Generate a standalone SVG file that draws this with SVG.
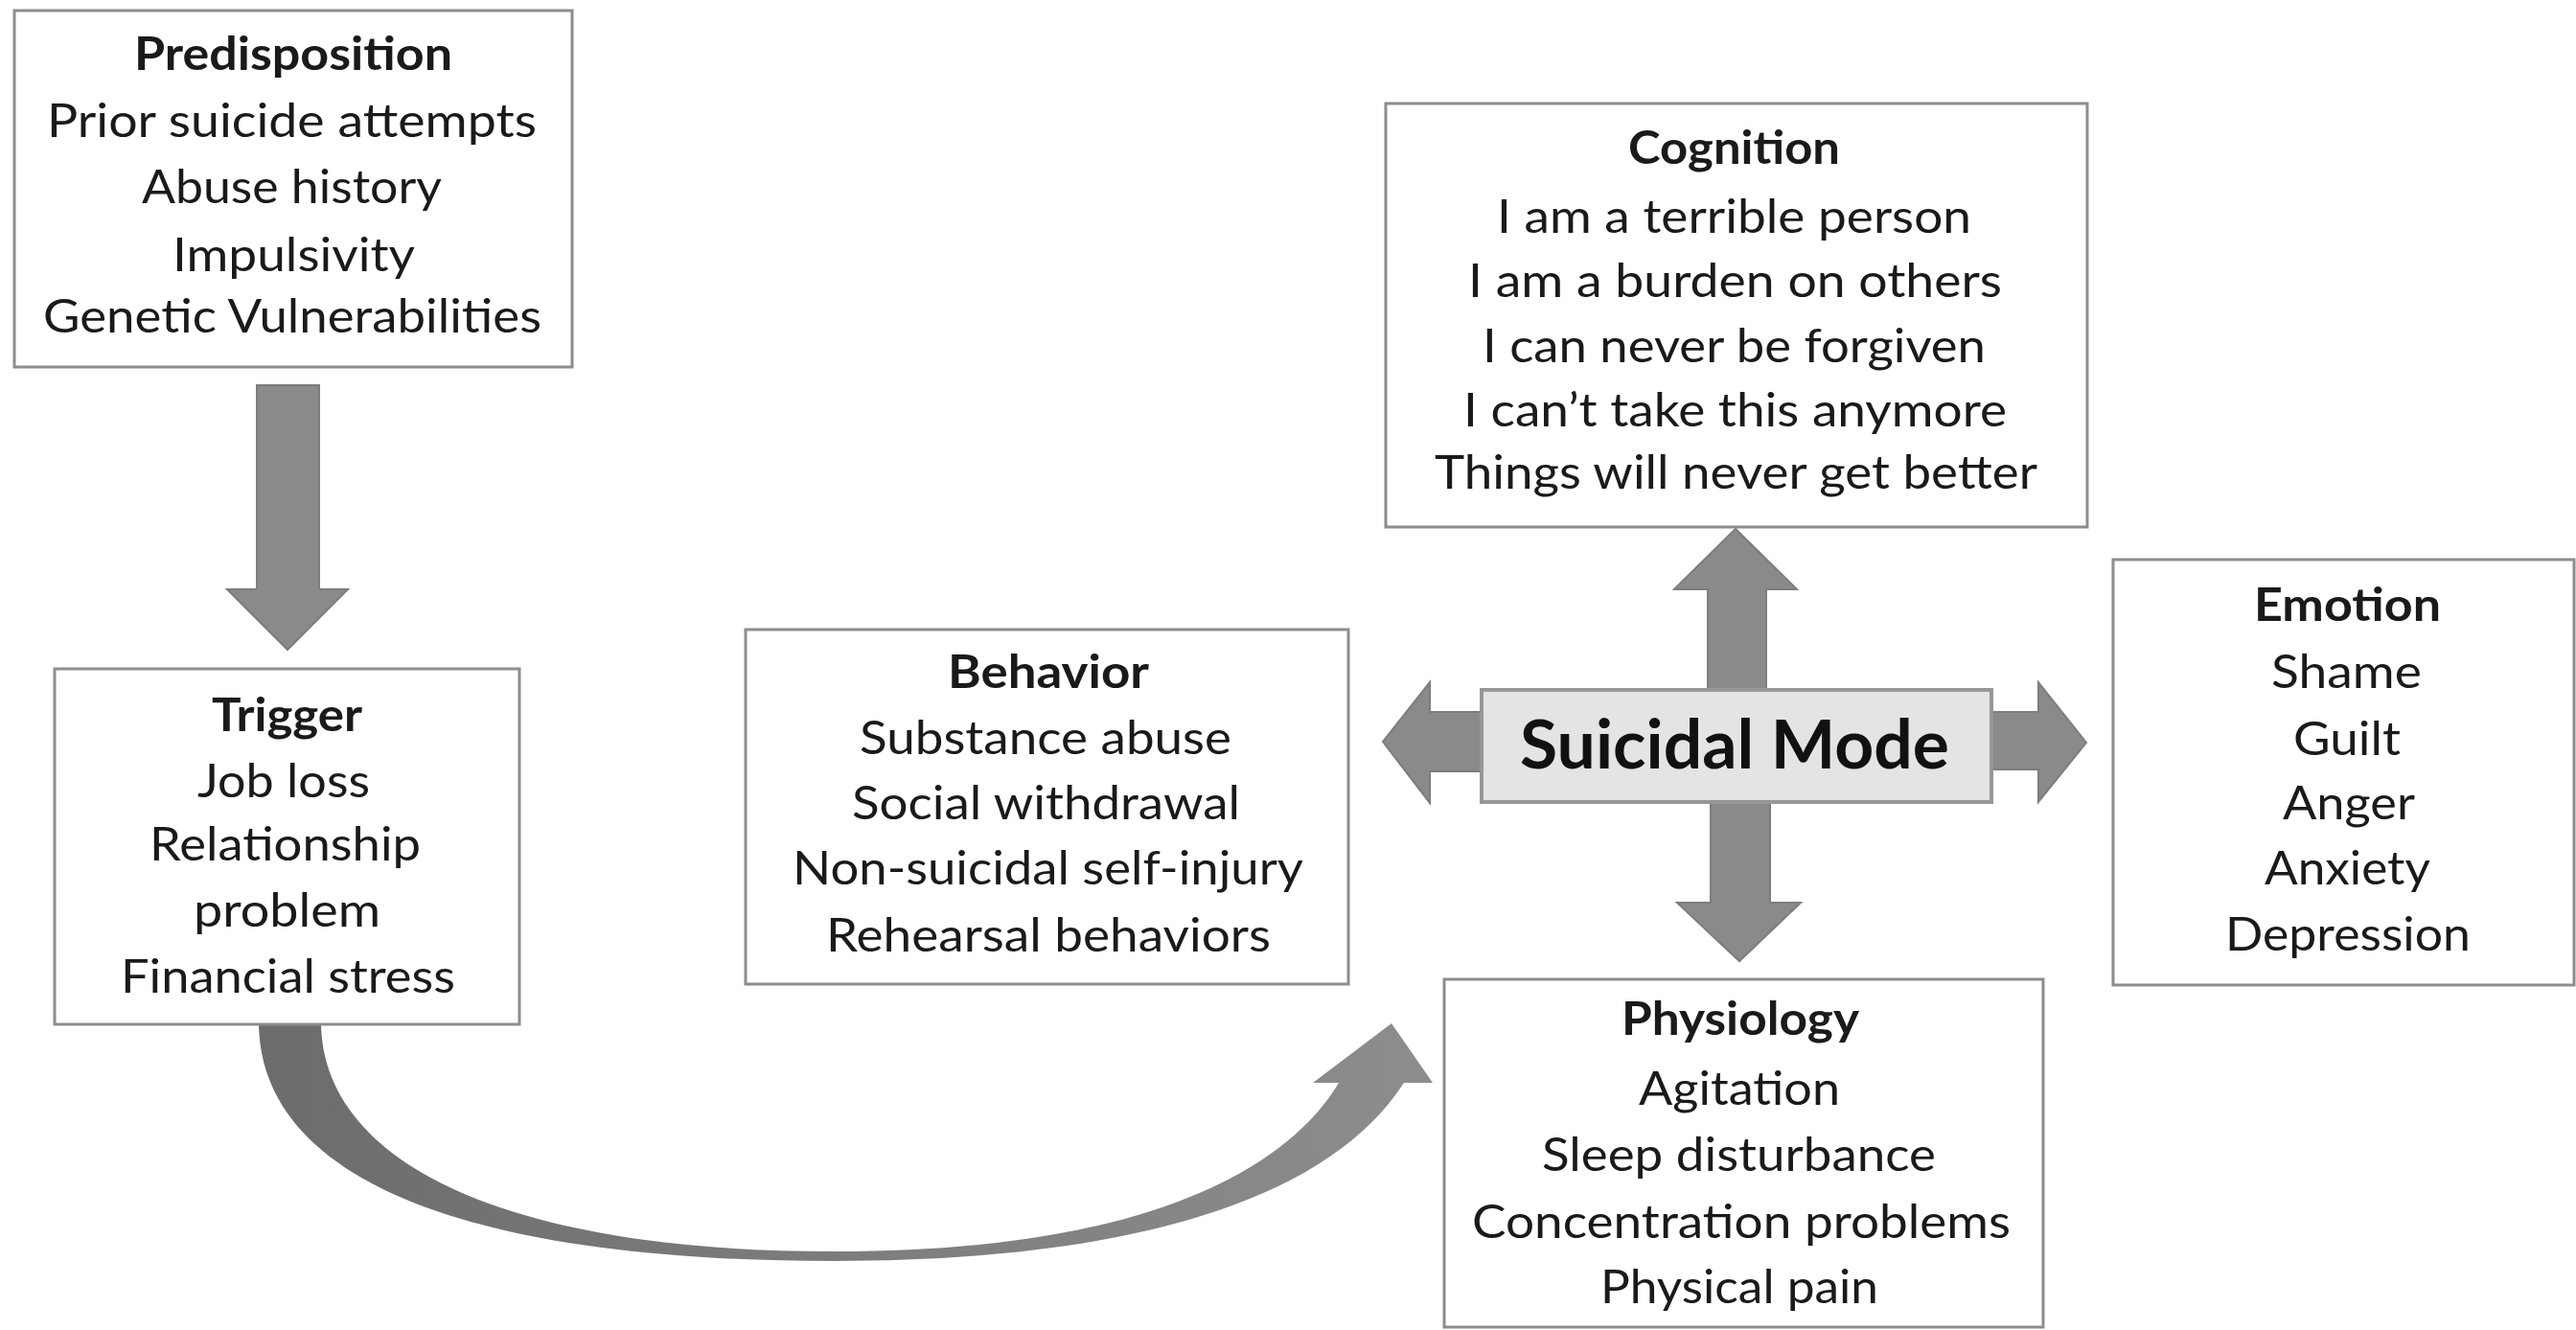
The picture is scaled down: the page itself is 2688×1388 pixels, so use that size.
<svg xmlns="http://www.w3.org/2000/svg" width="2688" height="1388" viewBox="0 0 2688 1388">
<style>
.box{fill:#ffffff;stroke:#8d8d8d;stroke-width:3}
.core{fill:#e4e4e4;stroke:#979797;stroke-width:4}
.arrow{fill:#8a8a8a;stroke:#7d7d7d;stroke-width:2}
.t{font-family:Lato,'Open Sans','Liberation Sans',sans-serif;font-size:48px;fill:#1a1a1a}
.b{font-weight:700}
.big{font-size:70px;font-weight:700;fill:#111}
</style>
<defs>
<linearGradient id="curveGrad" x1="0" y1="0" x2="1" y2="0">
<stop offset="0" stop-color="#6c6c6c"/>
<stop offset="1" stop-color="#8d8d8d"/>
</linearGradient>
</defs>
<rect width="2688" height="1388" fill="#ffffff"/>
<g id="connectors">
<polygon class="arrow" points="268,402 333,402 333,615 363,615 300,678 237,615 268,615"/>
<path d="M270,1066 C270,1224 470,1316 870,1316 C1170,1316 1384,1256 1465,1130 L1495,1130 L1452,1068 L1370,1130 L1397,1130 C1351,1207 1220,1306 870,1306 C520,1306 335,1210 335,1066 Z" fill="url(#curveGrad)"/>
<polygon class="arrow" points="1782,722 1782,615 1747,615 1811,552 1875,615 1843,615 1843,722"/>
<polygon class="arrow" points="1785,836 1847,836 1847,942 1879,942 1815,1003 1750,942 1785,942"/>
<polygon class="arrow" points="1548,743 1492,743 1492,712 1443,774 1492,838 1492,805 1548,805"/>
<polygon class="arrow" points="2076,743 2127,743 2127,712 2177,775 2127,837 2127,803 2076,803"/>
</g>
<g id="predisposition">
<rect class="box" x="15" y="11" width="582" height="372"/>
<text class="t b" x="140" y="73" textLength="332" lengthAdjust="spacingAndGlyphs">Predisposition</text>
<text class="t" x="49" y="143" textLength="511" lengthAdjust="spacingAndGlyphs">Prior suicide attempts</text>
<text class="t" x="148" y="212" textLength="313" lengthAdjust="spacingAndGlyphs">Abuse history</text>
<text class="t" x="180" y="283" textLength="253" lengthAdjust="spacingAndGlyphs">Impulsivity</text>
<text class="t" x="45" y="347" textLength="520" lengthAdjust="spacingAndGlyphs">Genetic Vulnerabilities</text>
</g>
<g id="trigger">
<rect class="box" x="57" y="698" width="485" height="371"/>
<text class="t b" x="221" y="763" textLength="157" lengthAdjust="spacingAndGlyphs">Trigger</text>
<text class="t" x="206" y="832" textLength="180" lengthAdjust="spacingAndGlyphs">Job loss</text>
<text class="t" x="156" y="898" textLength="283" lengthAdjust="spacingAndGlyphs">Relationship</text>
<text class="t" x="202" y="967" textLength="195" lengthAdjust="spacingAndGlyphs">problem</text>
<text class="t" x="126" y="1036" textLength="349" lengthAdjust="spacingAndGlyphs">Financial stress</text>
</g>
<g id="cognition">
<rect class="box" x="1446" y="108" width="732" height="442"/>
<text class="t b" x="1699" y="171" textLength="221" lengthAdjust="spacingAndGlyphs">Cognition</text>
<text class="t" x="1562" y="243" textLength="495" lengthAdjust="spacingAndGlyphs">I am a terrible person</text>
<text class="t" x="1532" y="310" textLength="557" lengthAdjust="spacingAndGlyphs">I am a burden on others</text>
<text class="t" x="1547" y="378" textLength="525" lengthAdjust="spacingAndGlyphs">I can never be forgiven</text>
<text class="t" x="1527" y="445" textLength="567" lengthAdjust="spacingAndGlyphs">I can’t take this anymore</text>
<text class="t" x="1497" y="510" textLength="629" lengthAdjust="spacingAndGlyphs">Things will never get better</text>
</g>
<g id="behavior">
<rect class="box" x="778" y="657" width="629" height="370"/>
<text class="t b" x="989" y="718" textLength="210" lengthAdjust="spacingAndGlyphs">Behavior</text>
<text class="t" x="897" y="787" textLength="388" lengthAdjust="spacingAndGlyphs">Substance abuse</text>
<text class="t" x="889" y="855" textLength="405" lengthAdjust="spacingAndGlyphs">Social withdrawal</text>
<text class="t" x="827" y="923" textLength="533" lengthAdjust="spacingAndGlyphs">Non-suicidal self-injury</text>
<text class="t" x="862" y="993" textLength="464" lengthAdjust="spacingAndGlyphs">Rehearsal behaviors</text>
</g>
<g id="suicidal-mode">
<rect class="core" x="1546" y="720" width="532" height="117"/>
<text class="t big" x="1586" y="802" textLength="448" lengthAdjust="spacingAndGlyphs">Suicidal Mode</text>
</g>
<g id="emotion">
<rect class="box" x="2205" y="584" width="481" height="444"/>
<text class="t b" x="2352" y="648" textLength="195" lengthAdjust="spacingAndGlyphs">Emotion</text>
<text class="t" x="2370" y="718" textLength="157" lengthAdjust="spacingAndGlyphs">Shame</text>
<text class="t" x="2393" y="788" textLength="112" lengthAdjust="spacingAndGlyphs">Guilt</text>
<text class="t" x="2382" y="855" textLength="138" lengthAdjust="spacingAndGlyphs">Anger</text>
<text class="t" x="2363" y="923" textLength="173" lengthAdjust="spacingAndGlyphs">Anxiety</text>
<text class="t" x="2322" y="992" textLength="256" lengthAdjust="spacingAndGlyphs">Depression</text>
</g>
<g id="physiology">
<rect class="box" x="1507" y="1022" width="625" height="363"/>
<text class="t b" x="1692" y="1080" textLength="248" lengthAdjust="spacingAndGlyphs">Physiology</text>
<text class="t" x="1710" y="1153" textLength="210" lengthAdjust="spacingAndGlyphs">Agitation</text>
<text class="t" x="1609" y="1222" textLength="411" lengthAdjust="spacingAndGlyphs">Sleep disturbance</text>
<text class="t" x="1536" y="1292" textLength="562" lengthAdjust="spacingAndGlyphs">Concentration problems</text>
<text class="t" x="1670" y="1360" textLength="290" lengthAdjust="spacingAndGlyphs">Physical pain</text>
</g>
</svg>
